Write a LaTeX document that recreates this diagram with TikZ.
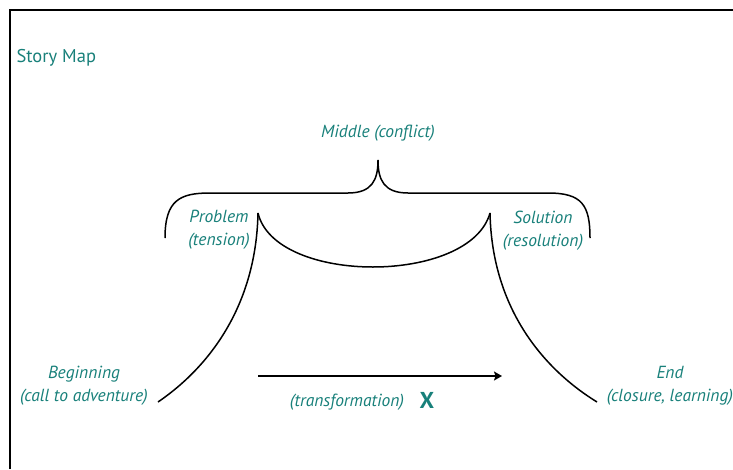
\documentclass[tikz,border=0pt]{standalone}
\usepackage{fontspec}
\setmainfont{PT Sans}
\usetikzlibrary{arrows.meta}
\definecolor{storyteal}{RGB}{24,128,122}
\tikzset{
  label text/.style={text=storyteal,align=center,font=\fontsize{17.5}{23}\selectfont\itshape},
  story line/.style={line width=1.5pt}
}
\begin{document}
\begin{tikzpicture}[x=1pt,y=-1pt]
\useasboundingbox (0,0) rectangle (733,469);
\draw[line width=1.8pt] (10,469) |- (733,10);
\node[anchor=west,text=storyteal,font=\fontsize{18.5}{22}\selectfont] (title) at (13,58) {Story Map};
\coordinate (braceleft) at (165,238);
\coordinate (bracetip) at (378,160);
\coordinate (braceright) at (590,238);
\coordinate (probtip) at (258,213);
\coordinate (soltip) at (490,213);
\coordinate (begtip) at (158,402);
\coordinate (endtip) at (597,402);
\coordinate (arrowstart) at (258,376);
\coordinate (arrowend) at (502,376);
\draw[story line] (braceleft) .. controls (165,200) and (180,193) .. (210,193) -- (348,193)
  .. controls (372,193) and (378,180) .. (bracetip)
  .. controls (378,180) and (384,193) .. (408,193) -- (548,193)
  .. controls (582,193) and (590,205) .. (braceright);
\draw[story line] (probtip) .. controls (275,285) and (470,285) .. (soltip);
\draw[story line] (probtip) .. controls (256,310) and (205,370) .. (begtip);
\draw[story line] (soltip) .. controls (492,310) and (545,370) .. (endtip);
\draw[line width=1.6pt,-{Stealth[length=8pt,width=9pt,inset=1.5pt]}] (arrowstart) -- (arrowend);
\node[label text] (middle) at (378,133) {Middle (conflict)};
\node[label text] (problem) at (219,230) {Problem\\(tension)};
\node[label text] (solution) at (543,231) {Solution\\(resolution)};
\node[label text] (beginning) at (84,386) {Beginning\\(call to adventure)};
\node[label text] (end) at (670,386) {End\\(closure, learning)};
\node[label text] (transform) at (347,402) {(transformation)};
\node[text=storyteal,font=\fontsize{23}{26}\selectfont\bfseries] (ex) at (427,400) {X};
\end{tikzpicture}
\end{document}
